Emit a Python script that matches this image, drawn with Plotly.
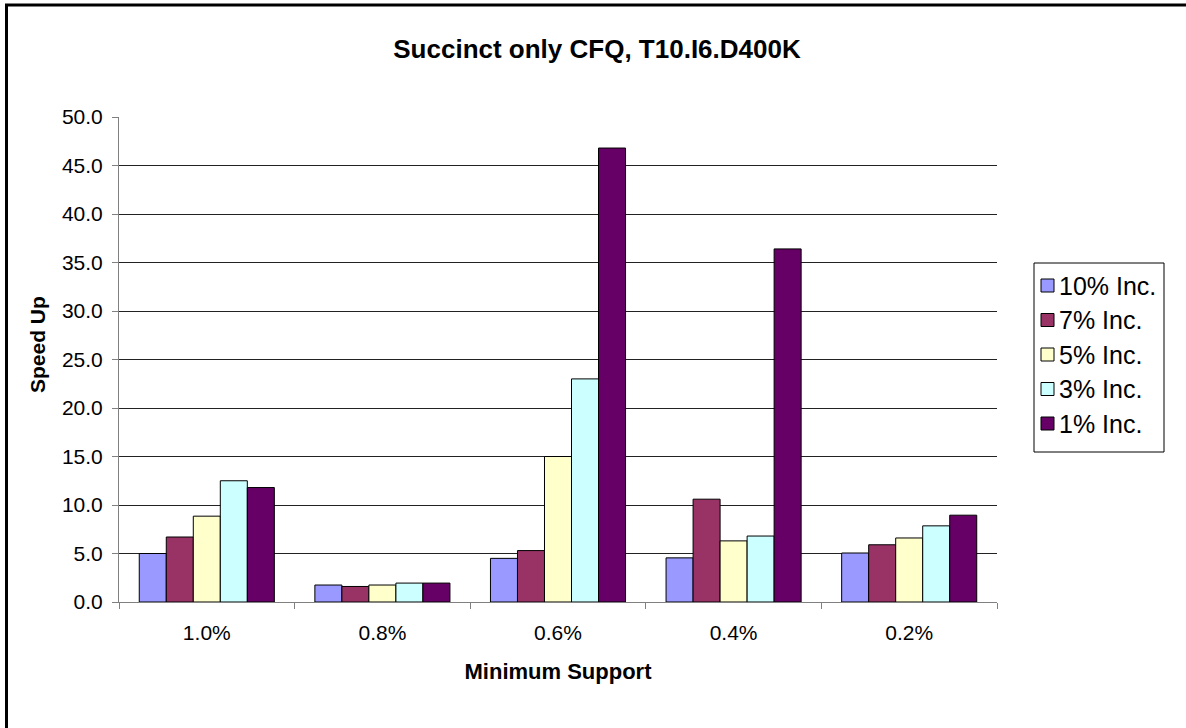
import plotly.graph_objects as go

categories = ["1.0%", "0.8%", "0.6%", "0.4%", "0.2%"]
series_names = ["10% Inc.", "7% Inc.", "5% Inc.", "3% Inc.", "1% Inc."]
inc10 = [5.0, 1.75, 4.5, 4.55, 5.05]
inc7 = [6.7, 1.6, 5.3, 10.6, 5.9]
inc5 = [8.85, 1.75, 15.0, 6.3, 6.6]
inc3 = [12.5, 1.95, 23.0, 6.8, 7.85]
inc1 = [11.8, 1.95, 46.8, 36.4, 8.95]
series_values = [inc10, inc7, inc5, inc3, inc1]
colors = ["#9999FF", "#993366", "#FFFFCC", "#CCFFFF", "#660066"]

W, H = 1186, 728
L, R, T, B = 119, 997, 117, 602
FONT = "Arial, Liberation Sans, sans-serif"

fig = go.Figure()
for name, vals, col in zip(series_names, series_values, colors):
    fig.add_trace(go.Bar(
        x=categories, y=vals, name=name, showlegend=False,
        marker=dict(color=col, line=dict(color="#000000", width=1)),
    ))

def px2paper_x(px):
    return (px - L) / (R - L)

def px2paper_y(py):
    return (B - py) / (B - T)

shapes = [dict(type="rect", xref="paper", yref="paper",
               x0=px2paper_x(6.5), x1=px2paper_x(W + 10),
               y0=px2paper_y(H + 10), y1=px2paper_y(5),
               line=dict(color="#000000", width=3), fillcolor="rgba(0,0,0,0)",
               layer="below")]
annotations = []

# legend drawn manually (box, swatches, labels)
LG_L, LG_R, LG_T, LG_B = 1034, 1164, 263, 452
shapes.append(dict(type="rect", xref="paper", yref="paper",
                   x0=px2paper_x(LG_L), x1=px2paper_x(LG_R),
                   y0=px2paper_y(LG_B), y1=px2paper_y(LG_T),
                   line=dict(color="#000000", width=1), fillcolor="white"))
row_gap = 34.5
center = (LG_T + LG_B) / 2 - 3
n = len(series_names)
for i, (name, col) in enumerate(zip(series_names, colors)):
    cy = center + (i - (n - 1) / 2) * row_gap
    shapes.append(dict(type="rect", xref="paper", yref="paper",
                       x0=px2paper_x(1041), x1=px2paper_x(1054),
                       y0=px2paper_y(cy + 6.5), y1=px2paper_y(cy - 6.5),
                       line=dict(color="#000000", width=1), fillcolor=col))
    annotations.append(dict(xref="paper", yref="paper",
                            x=px2paper_x(1057), y=px2paper_y(cy),
                            xanchor="left", yanchor="middle", showarrow=False,
                            text=name, font=dict(family=FONT, size=25, color="#000000")))

annotations.append(dict(xref="paper", yref="paper",
                        x=px2paper_x(37), y=px2paper_y(345),
                        xanchor="center", yanchor="middle", showarrow=False,
                        textangle=-90, text="<b>Speed Up</b>",
                        font=dict(family=FONT, size=21, color="#000000")))

fig.update_layout(
    width=W, height=H,
    margin=dict(l=L, r=W - R, t=T, b=H - B, pad=0),
    paper_bgcolor="white", plot_bgcolor="white",
    barmode="group", bargap=1.5 / 6.5, bargroupgap=0,
    font=dict(family=FONT, size=21, color="#000000"),
    showlegend=False,
    title=dict(text="<b>Succinct only CFQ, T10.I6.D400K</b>",
               x=597 / W, xref="container", xanchor="center",
               y=1 - 49 / H, yref="container", yanchor="middle",
               font=dict(family=FONT, size=26, color="#000000")),
    xaxis=dict(
        title=dict(text="<b>Minimum Support</b>", font=dict(family=FONT, size=22), standoff=20),
        showline=True, linecolor="#808080", linewidth=1,
        ticks="outside", tickson="boundaries", ticklen=6, tickcolor="#808080",
        ticklabelstandoff=12,
        tickfont=dict(family=FONT, size=21), showgrid=False,
    ),
    yaxis=dict(
        range=[0, 50], dtick=5, tickformat=".1f",
        showline=True, linecolor="#808080", linewidth=1,
        ticks="outside", ticklen=6, tickcolor="#808080",
        ticklabelstandoff=5,
        showgrid=True, gridcolor="#222222", gridwidth=1,
        tickfont=dict(family=FONT, size=21), zeroline=False,
    ),
    shapes=shapes,
    annotations=annotations,
)

fig.write_html("out.html")
